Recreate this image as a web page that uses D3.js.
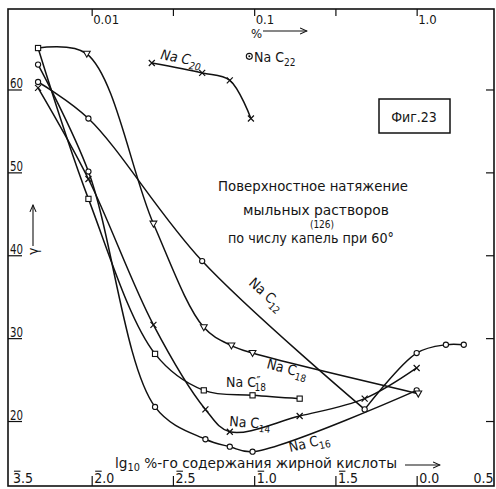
<!DOCTYPE html>
<html><head><meta charset="utf-8">
<script src="https://cdn.jsdelivr.net/npm/d3@7"></script>
<style>
html,body{margin:0;padding:0;background:#fff;}
svg{display:block;}
text{font-family:"Liberation Sans Narrow","DejaVu Sans Condensed","DejaVu Sans",sans-serif;fill:#151515;}
</style></head><body>
<svg id="c" width="496" height="489"></svg>
<script>
// ---- data (x: lg10 of % fatty acid, y: surface tension) ----
const bottomTicks = [-2.5, -2, -1.5, -1, -0.5, 0, 0.5];
const bottomTickText = ["3.5", "2.0", "2.5", "1.0", "1.5", "0.0", "0.5"];
const bottomTickBar = [true, true, true, true, true, false, false];
const topTicks = [-2, -1.5, -1, -0.5, 0];
const topTickText = ["0.01", "", "0.1", "", "1.0"];
const yTicks = [60, 50, 40, 30, 20];

const lgC12 = [-2.33, -2.02, -1.32, -0.32, 0.00, 0.18, 0.29];
const gC12  = [60.9, 56.5, 39.3, 21.4, 28.2, 29.2, 29.2];

const lgC14 = [-2.33, -2.02, -1.62, -1.30, -1.15, -0.72, -0.32, 0.00];
const gC14  = [60.2, 49.2, 31.6, 21.4, 18.7, 20.6, 22.7, 26.4];

const lgC16 = [-2.33, -2.02, -1.61, -1.30, -1.15, -1.01, 0.00];
const gC16  = [63.0, 50.1, 21.7, 17.8, 16.9, 16.3, 23.7];

const lgC18 = [-2.33, -2.03, -1.62, -1.31, -1.14, -1.01, 0.01];
const gC18  = [65.0, 64.3, 43.8, 31.3, 29.1, 28.2, 23.3];

const lgC18b = [-2.33, -2.02, -1.61, -1.31, -1.01, -0.72];
const gC18b  = [65.0, 46.8, 28.1, 23.7, 23.1, 22.7];

const lgC20 = [-1.63, -1.32, -1.15, -1.02];
const gC20  = [63.2, 62.0, 61.1, 56.5];

const lgC22 = [-1.03];
const gC22  = [64.0];

// ---- scales ----
const svg = d3.select("#c");
const x = d3.scaleLinear().domain([-2.515, 0.476]).range([8, 494]);
const y = d3.scaleLinear().domain([12.16, 69.71]).range([486, 9]);
const [x0, x1] = x.range();
const [yB, yT] = y.range();

// frame
svg.append("rect").attr("x", x0).attr("y", yT).attr("width", x1 - x0).attr("height", yB - yT)
  .attr("fill", "none").attr("stroke", "#111").attr("stroke-width", 1.6);

// bottom axis
const gB = svg.append("g").attr("transform", `translate(0,${yB})`)
  .call(d3.axisBottom(x).tickValues(bottomTicks).tickSizeInner(-10).tickSizeOuter(0).tickFormat(""));
gB.select(".domain").remove();
gB.selectAll("line").attr("stroke", "#111").attr("stroke-width", 1.2);
gB.selectAll(".tick").each(function(d, i) {
  const last = i === bottomTicks.length - 1;
  const t = d3.select(this).append("text")
    .attr("x", last ? (x1 - x(d) - 1) : 2).attr("y", -3)
    .attr("font-size", 14).attr("fill", "#151515").attr("text-anchor", last ? "end" : "start")
    .attr("textLength", 20).attr("lengthAdjust", "spacingAndGlyphs")
    .text(bottomTickText[i]);
  if (bottomTickBar[i]) {
    const e = t.node().getExtentOfChar(0);
    d3.select(this).append("line").attr("x1", e.x + 1).attr("x2", e.x + e.width - 0.5)
      .attr("y1", e.y + 1.2).attr("y2", e.y + 1.2).attr("stroke", "#151515").attr("stroke-width", 1.1);
  }
});
gB.selectAll(".tick").filter((d, i) => i === bottomTicks.length - 1 || i === 0).select("line").remove();

// top axis
const gT = svg.append("g").attr("transform", `translate(0,${yT})`)
  .call(d3.axisTop(x).tickValues(topTicks).tickSizeInner(-7).tickSizeOuter(0).tickFormat(""));
gT.select(".domain").remove();
gT.selectAll("line").attr("stroke", "#111").attr("stroke-width", 1.2);
gT.selectAll(".tick").append("text").attr("x", 1).attr("y", 15).attr("font-size", 13)
  .attr("fill", "#151515").attr("text-anchor", "start").text((d, i) => topTickText[i]);

// left axis
const gL = svg.append("g").attr("transform", `translate(${x0},0)`)
  .call(d3.axisLeft(y).tickValues(yTicks).tickSizeInner(-14).tickSizeOuter(0).tickFormat(""));
gL.select(".domain").remove();
gL.selectAll("line").attr("stroke", "#111").attr("stroke-width", 1.2);
gL.selectAll(".tick").append("text").attr("x", 2).attr("y", -2).attr("font-size", 14)
  .attr("textLength", 13).attr("lengthAdjust", "spacingAndGlyphs")
  .attr("fill", "#151515").attr("text-anchor", "start").text(d => d);

// right axis
const gR = svg.append("g").attr("transform", `translate(${x1},0)`)
  .call(d3.axisRight(y).tickValues(yTicks).tickSizeInner(-8).tickSizeOuter(0).tickFormat(""));
gR.select(".domain").remove();
gR.selectAll("line").attr("stroke", "#111").attr("stroke-width", 1.2);

// ---- series ----
const cr = d3.curveCatmullRom.alpha(0.5);
function pts(lx, ly) { return lx.map((v, i) => [x(v), y(ly[i])]); }
function drawLine(p, curve) {
  svg.append("path").attr("d", d3.line().curve(curve)(p))
    .attr("fill", "none").attr("stroke", "#111").attr("stroke-width", 1.5);
}
function drawMarkers(p, type) {
  const g = svg.append("g");
  p.forEach(([px, py]) => {
    if (type === "circle") {
      g.append("circle").attr("cx", px).attr("cy", py).attr("r", 2.6)
        .attr("fill", "#fff").attr("stroke", "#111").attr("stroke-width", 1.1);
    } else if (type === "square") {
      g.append("rect").attr("x", px - 2.6).attr("y", py - 2.6).attr("width", 5.2).attr("height", 5.2)
        .attr("fill", "#fff").attr("stroke", "#111").attr("stroke-width", 1.1);
    } else if (type === "triangle") {
      g.append("path").attr("d", `M${px - 3.4},${py - 2.6}L${px + 3.4},${py - 2.6}L${px},${py + 3.4}Z`)
        .attr("fill", "#fff").attr("stroke", "#111").attr("stroke-width", 1.1);
    } else if (type === "cross") {
      g.append("path").attr("d", `M${px - 3},${py - 3}L${px + 3},${py + 3}M${px - 3},${py + 3}L${px + 3},${py - 3}`)
        .attr("stroke", "#111").attr("stroke-width", 1.2);
    } else if (type === "dotcircle") {
      g.append("circle").attr("cx", px).attr("cy", py).attr("r", 3)
        .attr("fill", "#fff").attr("stroke", "#111").attr("stroke-width", 1.1);
      g.append("circle").attr("cx", px).attr("cy", py).attr("r", 1).attr("fill", "#111");
    }
  });
}

const p12 = pts(lgC12, gC12);
drawLine(p12.slice(0, 4), cr);
drawLine(p12.slice(3), cr);
const p14 = pts(lgC14, gC14);
drawLine(p14, cr);
const p16 = pts(lgC16, gC16);
drawLine(p16, cr);
const p18 = pts(lgC18, gC18);
drawLine(p18, cr);
const p18b = pts(lgC18b, gC18b);
drawLine(p18b, cr);
const p20 = pts(lgC20, gC20);
drawLine(p20, cr);

drawMarkers(p12, "circle");
drawMarkers(p14, "cross");
drawMarkers(p16, "circle");
drawMarkers(p18.slice(1), "triangle");
drawMarkers(p18b, "square");
drawMarkers(p20, "cross");
drawMarkers(pts(lgC22, gC22), "dotcircle");

// ---- series labels ----
function naLabel(px, py, rot, sub, opts = {}) {
  const t = svg.append("text").attr("transform", `translate(${px},${py}) rotate(${rot})`)
    .attr("font-size", opts.size || 14).attr("font-style", opts.italic ? "italic" : "normal");
  t.append("tspan").text("Na C");
  if (opts.prime) {
    t.append("tspan").attr("dx", 0.5).attr("dy", -2).attr("font-size", 12).text("\u2033");
    t.append("tspan").attr("dx", -6).attr("dy", 6).attr("font-size", 10).text(sub);
  } else {
    t.append("tspan").attr("dy", 4).attr("font-size", 10).text(sub);
  }
}
naLabel(160, 59, 11, "20", {italic: true});
naLabel(254, 62, 0, "22");
naLabel(248, 284, 42, "12");
naLabel(266, 368, 15, "18");
naLabel(226, 387, 0, "18", {prime: true});
naLabel(229, 426, 4, "14");
naLabel(290, 452, -13, "16");

// ---- titles ----
svg.append("text").attr("x", 313).attr("y", 191).attr("text-anchor", "middle").attr("font-size", 14)
  .attr("textLength", 190).attr("lengthAdjust", "spacingAndGlyphs").text("Поверхностное натяжение");
svg.append("text").attr("x", 316).attr("y", 215).attr("text-anchor", "middle").attr("font-size", 14)
  .attr("textLength", 146).attr("lengthAdjust", "spacingAndGlyphs").text("мыльных растворов");
svg.append("text").attr("x", 322).attr("y", 228).attr("text-anchor", "middle").attr("font-size", 10)
  .text("(126)");
svg.append("text").attr("x", 311).attr("y", 243).attr("text-anchor", "middle").attr("font-size", 14)
  .attr("textLength", 166).attr("lengthAdjust", "spacingAndGlyphs").text("по числу капель при 60°");

// figure box
svg.append("rect").attr("x", 379).attr("y", 99).attr("width", 71).attr("height", 34)
  .attr("fill", "none").attr("stroke", "#111").attr("stroke-width", 1.5);
svg.append("text").attr("x", 414).attr("y", 122).attr("text-anchor", "middle").attr("font-size", 14)
  .text("Фиг.23");

// x-axis title
const xt = svg.append("text").attr("x", 115).attr("y", 468).attr("font-size", 14)
  .attr("textLength", 282).attr("lengthAdjust", "spacingAndGlyphs");
xt.append("tspan").text("lg");
xt.append("tspan").attr("dy", 3).attr("font-size", 10).text("10");
xt.append("tspan").attr("dy", -3).text(" %-го содержания жирной кислоты");

// arrows
svg.append("defs").append("marker").attr("id", "ah").attr("viewBox", "0 0 10 10").attr("refX", 9).attr("refY", 5)
  .attr("markerWidth", 7).attr("markerHeight", 7).attr("orient", "auto")
  .append("path").attr("d", "M0,1L9,5L0,9").attr("fill", "none").attr("stroke", "#111").attr("stroke-width", 1.3);
function arrow(xa, ya, xb, yb) {
  svg.append("line").attr("x1", xa).attr("y1", ya).attr("x2", xb).attr("y2", yb)
    .attr("stroke", "#111").attr("stroke-width", 1.1).attr("marker-end", "url(#ah)");
}
arrow(405, 465, 440, 465);
arrow(263, 31, 307, 31);
arrow(33, 246, 33, 205);
svg.append("text").attr("x", 251).attr("y", 38).attr("font-size", 13).text("%");
svg.append("text").attr("transform", "translate(38,255) rotate(-90)").attr("font-size", 14).text("γ");
</script>
</body></html>
